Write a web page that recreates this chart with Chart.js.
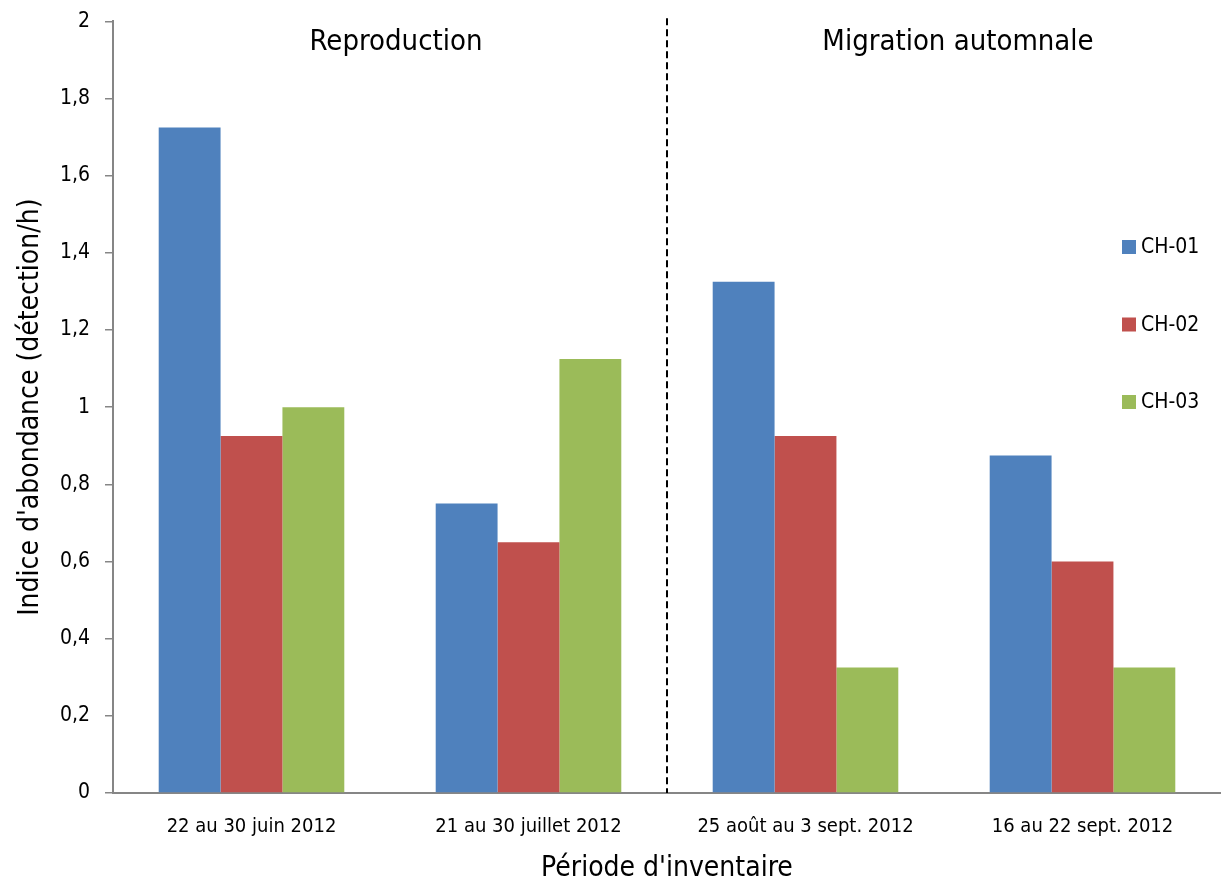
<!DOCTYPE html>
<html>
<head>
<meta charset="utf-8">
<script src="https://cdn.jsdelivr.net/npm/chart.js@4"></script>
<style>
  html, body { margin: 0; padding: 0; background: #fff; }
  #wrap { width: 1221px; height: 886px; }
</style>
</head>
<body>
<div id="wrap"><canvas id="abondanceChart" width="1221" height="886"></canvas></div>
<script>
const FONT = "'Liberation Sans Narrow', 'Arial Narrow', 'DejaVu Sans Condensed', 'Liberation Sans', sans-serif";

const periodes = ['22 au 30 juin 2012', '21 au 30 juillet 2012', '25 août au 3 sept. 2012', '16 au 22 sept. 2012'];
const ch01 = [1.725, 0.75, 1.325, 0.875];
const ch02 = [0.925, 0.65, 0.925, 0.6];
const ch03 = [1.0, 1.125, 0.325, 0.325];
const yTicks = [0, 0.2, 0.4, 0.6, 0.8, 1, 1.2, 1.4, 1.6, 1.8, 2];
const saisons = ['Reproduction', 'Migration automnale'];

// annotations: section titles, dashed separator, legend on the right
const annotations = {
  id: 'annotations',
  afterDraw(chart) {
    const c = chart.ctx;
    const x = chart.scales.x;
    const area = chart.chartArea;
    c.save();
    // dashed line between 2nd and 3rd period
    const sep = (x.getPixelForValue(1) + x.getPixelForValue(2)) / 2;
    c.strokeStyle = '#000';
    c.lineWidth = 2;
    c.setLineDash([7, 4]);
    c.beginPath();
    c.moveTo(sep, area.top - 3);
    c.lineTo(sep, area.bottom);
    c.stroke();
    c.setLineDash([]);

    c.fillStyle = '#000';
    c.font = '29px ' + FONT;
    c.textAlign = 'center';
    c.textBaseline = 'middle';
    c.fillText(saisons[0], (x.getPixelForValue(0) + x.getPixelForValue(1)) / 2 + 6, 42);
    c.fillText(saisons[1], (x.getPixelForValue(2) + x.getPixelForValue(3)) / 2 + 14, 42);

    // legend
    c.font = '21px ' + FONT;
    c.textAlign = 'left';
    chart.data.datasets.forEach((ds, i) => {
      const ly = 247 + i * 77.5;
      c.fillStyle = ds.backgroundColor;
      c.fillRect(1122, ly - 7, 14, 14);
      c.fillStyle = '#000';
      c.fillText(ds.label, 1141, ly + 1);
    });
    c.restore();
  }
};

new Chart(document.getElementById('abondanceChart'), {
  type: 'bar',
  data: {
    labels: periodes,
    datasets: [
      { label: 'CH-01', data: ch01, backgroundColor: '#4F81BD' },
      { label: 'CH-02', data: ch02, backgroundColor: '#C0504D' },
      { label: 'CH-03', data: ch03, backgroundColor: '#9BBB59' }
    ]
  },
  options: {
    responsive: false,
    animation: false,
    layout: { padding: { top: 2, right: 0, left: 0, bottom: 0 } },
    datasets: { bar: { categoryPercentage: 0.67, barPercentage: 1.0 } },
    plugins: {
      legend: { display: false },
      tooltip: { enabled: false }
    },
    scales: {
      x: {
        grid: { display: false },
        border: { display: true, color: '#868686', width: 2 },
        ticks: { color: '#000', font: { family: FONT, size: 20 }, padding: 14, maxRotation: 0 },
        title: { display: true, text: "Période d'inventaire", color: '#000', font: { family: FONT, size: 28 }, padding: { top: 10, bottom: 0 } },
        afterFit(scale) { scale.height = 93; }
      },
      y: {
        min: 0,
        max: 2,
        afterBuildTicks(scale) { scale.ticks = yTicks.map(v => ({ value: v })); },
        grid: { drawOnChartArea: false, drawTicks: true, tickLength: 8, color: '#868686', lineWidth: 1.5 },
        border: { display: true, color: '#868686', width: 2 },
        ticks: {
          color: '#000',
          font: { family: FONT, size: 21, lineHeight: 0.6 },
          padding: 15,
          callback: v => String(Math.round(v * 10) / 10).replace('.', ',')
        },
        title: { display: true, text: "Indice d'abondance (détection/h)", color: '#000', font: { family: FONT, size: 28 }, padding: { top: 14, bottom: 4 } },
        afterFit(scale) { scale.width = 113; }
      }
    }
  },
  plugins: [annotations]
});
</script>
</body>
</html>
